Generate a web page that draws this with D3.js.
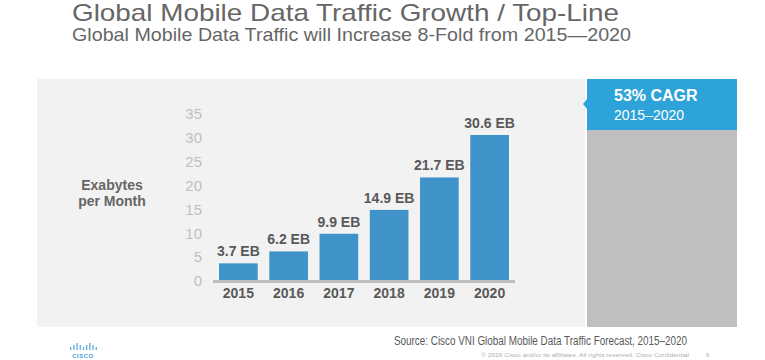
<!DOCTYPE html>
<html>
<head>
<meta charset="utf-8">
<script src="https://cdn.jsdelivr.net/npm/d3@7"></script>
<style>
  html, body { margin: 0; padding: 0; background: #ffffff; }
  svg { display: block; font-family: "Liberation Sans", Arial, sans-serif; }
</style>
</head>
<body>
<svg id="chart" width="765" height="360"></svg>
<script>
// ---- data ----
const years = ["2015", "2016", "2017", "2018", "2019", "2020"];
const exabytes = [3.7, 6.2, 9.9, 14.9, 21.7, 30.6];
const valueLabels = ["3.7 EB", "6.2 EB", "9.9 EB", "14.9 EB", "21.7 EB", "30.6 EB"];
const yTicks = [0, 5, 10, 15, 20, 25, 30, 35];
const titleText = "Global Mobile Data Traffic Growth / Top-Line";
const subtitleText = "Global Mobile Data Traffic will Increase 8-Fold from 2015\u20142020";
const yAxisLines = ["Exabytes", "per Month"];
const cagrLines = ["53% CAGR", "2015\u20132020"];
const sourceText = "Source: Cisco VNI Global Mobile Data Traffic Forecast, 2015\u20132020";
const footerText = "\u00A9 2016  Cisco and/or its affiliates. All rights reserved.   Cisco Confidential";
const pageNumber = "6";

// ---- layout ----
const svg = d3.select("#chart");

// panel background
svg.append("rect").attr("x", 37).attr("y", 79).attr("width", 548).attr("height", 248).attr("fill", "#f2f2f2");

// title / subtitle
svg.append("text").attr("x", 72).attr("y", 21)
  .attr("font-size", 24).attr("fill", "#666666")
  .attr("textLength", 547).attr("lengthAdjust", "spacingAndGlyphs")
  .text(titleText);
svg.append("text").attr("x", 72).attr("y", 41)
  .attr("font-size", 19).attr("fill", "#666666")
  .attr("textLength", 559).attr("lengthAdjust", "spacingAndGlyphs")
  .text(subtitleText);

// scales
const x = d3.scaleBand().domain(years).range([213, 515]).paddingInner(0.23).paddingOuter(0.12);
const y = d3.scaleLinear().domain([0, 35]).range([281, 114]);

// y tick labels via axis
const yAxis = svg.append("g").attr("transform", "translate(202,0)")
  .call(d3.axisLeft(y).tickValues(yTicks).tickSize(0).tickPadding(0));
yAxis.select(".domain").remove();
yAxis.selectAll("text")
  .attr("font-family", "Liberation Sans, Arial, sans-serif")
  .attr("font-size", 15).attr("fill", "#bfbfbf");

// y axis title
svg.append("text").attr("x", 112).attr("y", 190)
  .attr("text-anchor", "middle").attr("font-size", 14).attr("font-weight", "bold").attr("fill", "#666666")
  .selectAll("tspan").data(yAxisLines).join("tspan")
  .attr("x", 112).attr("dy", (d, i) => i === 0 ? 0 : 16).text(d => d);

// bars
svg.append("g").selectAll("rect").data(exabytes).join("rect")
  .attr("x", (d, i) => x(years[i]))
  .attr("y", d => y(d))
  .attr("width", x.bandwidth())
  .attr("height", d => y(0) - y(d))
  .attr("fill", "#3f93c9");

// baseline
svg.append("line").attr("x1", 213).attr("x2", 515).attr("y1", y(0) + 0.5).attr("y2", y(0) + 0.5)
  .attr("stroke", "#bfbfbf").attr("stroke-width", 3);

// value labels
svg.append("g").selectAll("text").data(exabytes).join("text")
  .attr("x", (d, i) => x(years[i]) + x.bandwidth() / 2)
  .attr("y", d => y(d) - 7)
  .attr("text-anchor", "middle").attr("font-size", 14).attr("font-weight", "bold").attr("fill", "#595959")
  .text((d, i) => valueLabels[i]);

// x axis labels
const xAxis = svg.append("g").attr("transform", `translate(0,${y(0)})`)
  .call(d3.axisBottom(x).tickSize(0).tickPadding(0));
xAxis.select(".domain").remove();
xAxis.selectAll("text")
  .attr("dy", 0).attr("y", 17)
  .attr("font-family", "Liberation Sans, Arial, sans-serif")
  .attr("font-size", 14).attr("font-weight", "bold").attr("fill", "#595959");

// right CAGR box
svg.append("rect").attr("x", 587).attr("y", 130).attr("width", 150).attr("height", 197).attr("fill", "#bfbfbf");
svg.append("rect").attr("x", 587).attr("y", 79).attr("width", 150).attr("height", 51).attr("fill", "#2ea3d9");
svg.append("path").attr("d", "M587,99 L583,104 L587,109 Z").attr("fill", "#2ea3d9");
svg.append("text").attr("x", 614).attr("y", 101)
  .attr("font-size", 16).attr("font-weight", "bold").attr("fill", "#ffffff").text(cagrLines[0]);
svg.append("text").attr("x", 614).attr("y", 120)
  .attr("font-size", 14).attr("fill", "#ffffff").text(cagrLines[1]);

// source and footer
svg.append("text").attr("x", 394).attr("y", 345)
  .attr("font-size", 12).attr("fill", "#595959")
  .attr("textLength", 293).attr("lengthAdjust", "spacingAndGlyphs")
  .text(sourceText);
svg.append("text").attr("x", 481).attr("y", 357)
  .attr("font-size", 6).attr("fill", "#b0b0b0")
  .attr("textLength", 208).attr("lengthAdjust", "spacingAndGlyphs")
  .text(footerText);
svg.append("text").attr("x", 706).attr("y", 357)
  .attr("font-size", 6).attr("fill", "#b0b0b0").text(pageNumber);

// cisco logo (decorative)
const logoH = [1, 2, 3, 2, 1, 2, 3, 2, 1];
svg.append("g").selectAll("rect").data(logoH).join("rect")
  .attr("x", (d, i) => 70 + i * 3.2)
  .attr("y", d => 349 - d * 2)
  .attr("width", 1.3).attr("height", d => d * 2 + 1)
  .attr("fill", "#5aaee0");
svg.append("text").attr("x", 83).attr("y", 358)
  .attr("text-anchor", "middle").attr("font-size", 6).attr("font-weight", "bold").attr("fill", "#4a9fd8")
  .attr("letter-spacing", 0.5).text("CISCO");
</script>
</body>
</html>
